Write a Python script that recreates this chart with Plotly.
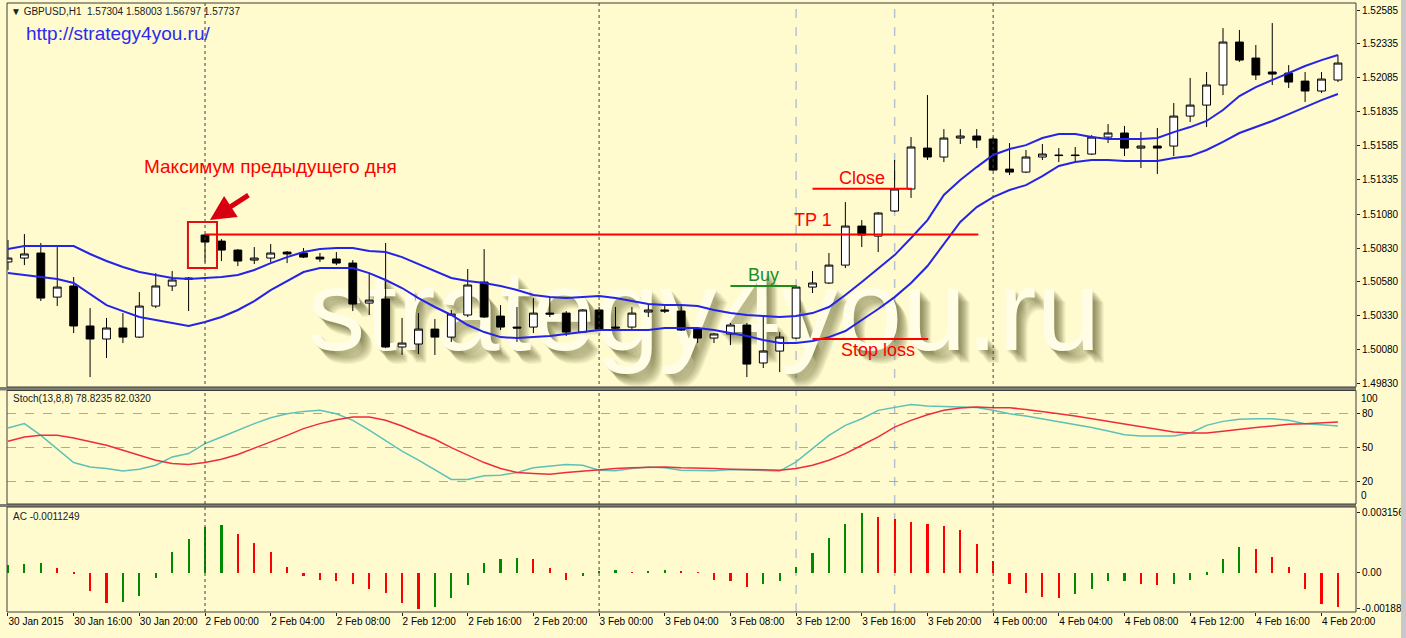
import plotly.graph_objects as go

# ---------------- data ----------------
bars = list(range(82))  # hourly bars, 30 Jan 2015 12:00 .. 4 Feb 2015 21:00 (weekend skipped)

time_label_bars = [0, 4, 8, 12, 16, 20, 24, 28, 32, 36, 40, 44, 48, 52, 56, 60, 64, 68, 72, 76, 80]
time_labels = ["30 Jan 2015", "30 Jan 16:00", "30 Jan 20:00", "2 Feb 00:00", "2 Feb 04:00",
               "2 Feb 08:00", "2 Feb 12:00", "2 Feb 16:00", "2 Feb 20:00", "3 Feb 00:00",
               "3 Feb 04:00", "3 Feb 08:00", "3 Feb 12:00", "3 Feb 16:00", "3 Feb 20:00",
               "4 Feb 00:00", "4 Feb 04:00", "4 Feb 08:00", "4 Feb 12:00", "4 Feb 16:00",
               "4 Feb 20:00"]

price_tick_labels = ["1.52585", "1.52335", "1.52085", "1.51835", "1.51585", "1.51335",
                     "1.51080", "1.50830", "1.50580", "1.50330", "1.50080", "1.49830"]

opens = [1.50727, 1.50756, 1.50793, 1.50468, 1.50550, 1.50255, 1.50159, 1.50240, 1.50173, 1.50402,
         1.50550, 1.50609, 1.50926, 1.50881, 1.50815, 1.50741, 1.50756, 1.50800, 1.50793, 1.50763,
         1.50749, 1.50719, 1.50424, 1.50454, 1.50100, 1.50122, 1.50232, 1.50173, 1.50336, 1.50579,
         1.50328, 1.50247, 1.50247, 1.50350, 1.50350, 1.50210, 1.50373, 1.50247, 1.50247, 1.50358,
         1.50373, 1.50365, 1.50232, 1.50166, 1.50196, 1.50262, 1.49982, 1.50070, 1.50166, 1.50542,
         1.50572, 1.50704, 1.50992, 1.50918, 1.51103, 1.51265, 1.51567, 1.51501, 1.51641, 1.51656,
         1.51634, 1.51412, 1.51390, 1.51501, 1.51516, 1.51516, 1.51523, 1.51648, 1.51678, 1.51567,
         1.51582, 1.51582, 1.51803, 1.51884, 1.52032, 1.52349, 1.52231, 1.52128, 1.52120, 1.52061,
         1.51988, 1.52069]
highs = [1.50889, 1.50933, 1.50867, 1.50837, 1.50616, 1.50387, 1.50314, 1.50350, 1.50505, 1.50645,
         1.50660, 1.50616, 1.50933, 1.50896, 1.50822, 1.50837, 1.50859, 1.50808, 1.50830, 1.50793,
         1.50800, 1.50741, 1.50645, 1.50867, 1.50314, 1.50350, 1.50306, 1.50373, 1.50675, 1.50822,
         1.50409, 1.50395, 1.50461, 1.50461, 1.50365, 1.50380, 1.50395, 1.50395, 1.50395, 1.50417,
         1.50402, 1.50402, 1.50247, 1.50203, 1.50277, 1.50277, 1.50336, 1.50210, 1.50550, 1.50660,
         1.50793, 1.51169, 1.51036, 1.51095, 1.51479, 1.51648, 1.51958, 1.51707, 1.51707, 1.51707,
         1.51648, 1.51604, 1.51553, 1.51597, 1.51567, 1.51575, 1.51663, 1.51744, 1.51730, 1.51685,
         1.51715, 1.51899, 1.52084, 1.52128, 1.52452, 1.52438, 1.52327, 1.52489, 1.52179, 1.52128,
         1.52128, 1.52253]
lows = [1.50668, 1.50704, 1.50439, 1.50402, 1.50203, 1.49878, 1.50019, 1.50129, 1.50166, 1.50387,
        1.50513, 1.50365, 1.50727, 1.50734, 1.50697, 1.50712, 1.50727, 1.50719, 1.50756, 1.50727,
        1.50704, 1.50365, 1.50336, 1.50092, 1.50041, 1.50048, 1.50041, 1.50137, 1.50321, 1.50314,
        1.50225, 1.50137, 1.50203, 1.50321, 1.50181, 1.50203, 1.50225, 1.50225, 1.50225, 1.50321,
        1.50350, 1.50218, 1.50129, 1.50129, 1.50114, 1.49878, 1.49945, 1.49915, 1.50159, 1.50498,
        1.50564, 1.50682, 1.50837, 1.50800, 1.51095, 1.51199, 1.51479, 1.51464, 1.51597, 1.51567,
        1.51400, 1.51368, 1.51383, 1.51479, 1.51464, 1.51464, 1.51516, 1.51604, 1.51508, 1.51420,
        1.51376, 1.51508, 1.51759, 1.51722, 1.51958, 1.52202, 1.52069, 1.52032, 1.52010, 1.51907,
        1.51973, 1.52054]
closes = [1.50756, 1.50786, 1.50461, 1.50542, 1.50255, 1.50159, 1.50240, 1.50173, 1.50402, 1.50550,
          1.50594, 1.50601, 1.50874, 1.50815, 1.50734, 1.50756, 1.50793, 1.50786, 1.50763, 1.50749,
          1.50719, 1.50417, 1.50446, 1.50100, 1.50129, 1.50232, 1.50173, 1.50343, 1.50557, 1.50321,
          1.50247, 1.50240, 1.50350, 1.50343, 1.50210, 1.50373, 1.50232, 1.50240, 1.50350, 1.50373,
          1.50365, 1.50225, 1.50166, 1.50196, 1.50262, 1.49974, 1.50070, 1.50173, 1.50542, 1.50572,
          1.50704, 1.50992, 1.50926, 1.51088, 1.51265, 1.51575, 1.51501, 1.51641, 1.51656, 1.51626,
          1.51405, 1.51390, 1.51501, 1.51523, 1.51512, 1.51512, 1.51648, 1.51678, 1.51567, 1.51582,
          1.51567, 1.51803, 1.51884, 1.52032, 1.52349, 1.52216, 1.52106, 1.52113, 1.52054, 1.51988,
          1.52076, 1.52194]

band_upper = [1.50822, 1.50845, 1.50845, 1.50845, 1.50845, 1.50786, 1.50734, 1.50690, 1.50653, 1.50631,
              1.50609, 1.50601, 1.50609, 1.50616, 1.50631, 1.50668, 1.50719, 1.50763, 1.50800, 1.50822,
              1.50830, 1.50830, 1.50808, 1.50800, 1.50763, 1.50712, 1.50660, 1.50609, 1.50587, 1.50572,
              1.50550, 1.50520, 1.50483, 1.50468, 1.50461, 1.50468, 1.50476, 1.50461, 1.50439, 1.50417,
              1.50409, 1.50409, 1.50402, 1.50373, 1.50350, 1.50336, 1.50328, 1.50321, 1.50328, 1.50350,
              1.50395, 1.50483, 1.50579, 1.50675, 1.50778, 1.50904, 1.51036, 1.51221, 1.51331, 1.51427,
              1.51516, 1.51560, 1.51589, 1.51641, 1.51670, 1.51670, 1.51648, 1.51634, 1.51634, 1.51634,
              1.51641, 1.51685, 1.51722, 1.51767, 1.51848, 1.51951, 1.52017, 1.52069, 1.52120, 1.52172,
              1.52216, 1.52253]
band_lower = [1.50645, 1.50631, 1.50616, 1.50601, 1.50572, 1.50491, 1.50409, 1.50365, 1.50321, 1.50299,
              1.50277, 1.50255, 1.50284, 1.50321, 1.50373, 1.50439, 1.50520, 1.50587, 1.50653, 1.50682,
              1.50682, 1.50682, 1.50645, 1.50594, 1.50535, 1.50461, 1.50395, 1.50336, 1.50262, 1.50210,
              1.50173, 1.50166, 1.50173, 1.50181, 1.50196, 1.50210, 1.50225, 1.50225, 1.50225, 1.50225,
              1.50240, 1.50240, 1.50240, 1.50225, 1.50203, 1.50181, 1.50151, 1.50129, 1.50129, 1.50144,
              1.50173, 1.50218, 1.50299, 1.50380, 1.50468, 1.50572, 1.50697, 1.50859, 1.51022, 1.51132,
              1.51206, 1.51258, 1.51294, 1.51361, 1.51435, 1.51464, 1.51479, 1.51479, 1.51471, 1.51471,
              1.51471, 1.51494, 1.51508, 1.51553, 1.51612, 1.51678, 1.51722, 1.51767, 1.51818, 1.51870,
              1.51921, 1.51966]

stoch_main = [67.0, 70.8, 60.5, 48.8, 36.5, 32.7, 31.3, 29.0, 30.7, 34.2,
              41.5, 44.4, 53.2, 59.0, 65.0, 70.8, 76.0, 79.5, 81.6, 82.5,
              79.5, 73.7, 65.0, 56.0, 46.5, 38.6, 29.8, 21.6, 21.6, 24.9,
              25.4, 27.8, 31.9, 33.6, 34.8, 34.2, 29.8, 29.2, 31.3, 32.5,
              31.9, 29.8, 29.8, 29.2, 30.4, 29.8, 29.0, 29.0, 37.1, 48.8,
              60.5, 69.3, 75.1, 82.5, 85.4, 87.7, 86.3, 86.0, 85.4, 85.1,
              82.5, 79.5, 77.5, 75.1, 72.2, 69.9, 67.3, 64.3, 61.1, 59.9,
              59.6, 59.9, 62.6, 69.3, 72.8, 74.6, 75.1, 75.1, 73.7, 70.8,
              69.9, 68.7]
stoch_signal = [55.3, 59.1, 60.5, 60.5, 58.2, 55.3, 51.8, 47.4, 43.0, 38.6,
                35.7, 34.8, 36.5, 39.5, 43.6, 48.8, 54.7, 60.5, 66.4, 70.8,
                74.3, 76.6, 76.6, 73.7, 68.7, 62.6, 57.0, 49.7, 43.0, 36.5,
                31.3, 27.8, 26.9, 26.3, 27.8, 29.0, 30.4, 31.3, 31.9, 32.5,
                32.7, 31.9, 31.9, 31.3, 30.7, 30.4, 30.1, 29.8, 31.3, 34.2,
                38.6, 44.4, 51.8, 59.1, 67.8, 73.7, 78.7, 82.5, 84.5, 85.4,
                84.8, 84.8, 83.3, 81.6, 79.5, 77.5, 75.1, 72.8, 70.2, 67.8,
                65.5, 63.5, 62.6, 62.6, 64.0, 65.8, 67.3, 68.7, 70.2, 70.8,
                71.6, 72.2]

ac_values = [0.00041, 0.00046, 0.00052, 0.00026, -0.00008, -0.00096, -0.00160, -0.00155, -0.00122, -0.00027,
             0.00107, 0.00179, 0.00240, 0.00252, 0.00206, 0.00155, 0.00107, 0.00029, -0.00017, -0.00035,
             -0.00040, -0.00060, -0.00086, -0.00108, -0.00160, -0.001888, -0.00177, -0.00134, -0.00065, 0.00052,
             0.00072, 0.00077, 0.00072, 0.00026, -0.00035, -0.00017, 0.00007, 0.00015, 0.00004, 0.00006,
             0.00015, 0.00007, 0.00002, -0.00035, -0.00043, -0.00074, -0.00058, -0.00040, 0.00029, 0.00103,
             0.00184, 0.00258, 0.003156, 0.00295, 0.00282, 0.00268, 0.00258, 0.00244, 0.00227, 0.00153,
             0.00064, -0.00057, -0.00108, -0.00125, -0.00134, -0.00113, -0.00082, -0.00045, -0.00043, -0.00057,
             -0.00065, -0.00060, -0.00036, -0.00010, 0.00072, 0.00136, 0.00127, 0.00084, 0.00029, -0.00082,
             -0.00165, -0.00177]
ac_tick_vals = [0.003156, 0.0, -0.001888]
ac_tick_text = ["0.003156", "0.00", "-0.001888"]

# trade levels drawn on the chart
level_names = ["TP 1", "Close", "Buy", "Stop loss"]
level_prices = [1.50930, 1.51268, 1.50550, 1.50159]
level_start = [12.0, 49.0, 44.0, 49.0]
level_end = [59.1, 55.05, 48.05, 56.05]
level_colors = ["#FF0000", "#FF0000", "#1E8C1E", "#FF0000"]

day_separators = [12, 36, 60]
marker_lines = [48, 54]

# ---------------- styling ----------------
BG = "#FFFBCF"
FONT = "Liberation Sans"
W, H = 1406, 638
ML, MR, MT, MB = 7, 50, 3, 26
PW, PH = W - ML - MR, H - MT - MB


def py(px):  # pixel row -> paper y
    return (H - MB - px) / PH


def pxx(px):  # pixel column -> paper x
    return (px - ML) / PW


price_range = [1.49805, 1.52637]
main_dom = [py(387), 1.0]
stoch_dom = [py(504), py(390.5)]
ac_dom = [0.0, py(507)]

PX_X = 1 / 16.42          # one pixel in bar units
PX_Y = 0.00007375          # one pixel in price units

fig = go.Figure()

# watermark (base layer, behind the candles)
WM = "strategy4you.ru"
wm_x, wm_y = 42.4, 1.50290
for k in range(1, 15):
    fig.add_trace(go.Scatter(
        x=[wm_x + 0.8 * k * PX_X], y=[wm_y - 0.9 * k * PX_Y], mode="text", text=[WM],
        textposition="middle center",
        textfont=dict(family=FONT, size=115, color="rgba(70,62,20,0.06)"),
        hoverinfo="skip", showlegend=False, xaxis="x", yaxis="y"))
fig.add_trace(go.Scatter(
    x=[wm_x], y=[wm_y], mode="text", text=[WM], textposition="middle center",
    textfont=dict(family=FONT, size=115, color="#FFFDE6"),
    hoverinfo="skip", showlegend=False, xaxis="x", yaxis="y"))

# candles
fig.add_trace(go.Candlestick(
    x=bars, open=opens, high=highs, low=lows, close=closes,
    increasing=dict(line=dict(color="#000000", width=1), fillcolor="#FFFFFF"),
    decreasing=dict(line=dict(color="#000000", width=1), fillcolor="#000000"),
    whiskerwidth=0, hoverinfo="skip", showlegend=False, xaxis="x", yaxis="y4"))

# channel
for band in (band_upper, band_lower):
    fig.add_trace(go.Scatter(x=bars, y=band, mode="lines",
                             line=dict(color="#2424E6", width=2),
                             hoverinfo="skip", showlegend=False, xaxis="x", yaxis="y4"))

# stochastic
fig.add_trace(go.Scatter(x=bars, y=stoch_main, mode="lines", line=dict(color="#5CC2B6", width=1.5),
                         hoverinfo="skip", showlegend=False, xaxis="x", yaxis="y2"))
fig.add_trace(go.Scatter(x=bars, y=stoch_signal, mode="lines", line=dict(color="#F02C3C", width=1.5),
                         hoverinfo="skip", showlegend=False, xaxis="x", yaxis="y2"))

# accelerator oscillator
ac_colors = []
for i, v in enumerate(ac_values):
    up = True if i == 0 else v > ac_values[i - 1]
    ac_colors.append("#008A00" if up else "#FF0000")
fig.add_trace(go.Bar(x=bars, y=ac_values, marker=dict(color=ac_colors, line=dict(width=0)), width=0.13,
                     hoverinfo="skip", showlegend=False, xaxis="x", yaxis="y3"))

shapes = []
# vertical separators
for b in day_separators:
    shapes.append(dict(type="line", xref="x", yref="paper", x0=b, x1=b, y0=0, y1=1,
                       line=dict(color="#404040", width=1, dash="dot"), layer="above"))
for b in marker_lines:
    shapes.append(dict(type="line", xref="x", yref="paper", x0=b, x1=b, y0=0, y1=1,
                       line=dict(color="#B8C2D2", width=1.5, dash="dash"), layer="below"))
# trade level lines
for p, s, e, c in zip(level_prices, level_start, level_end, level_colors):
    shapes.append(dict(type="line", xref="x", yref="y4", x0=s, x1=e, y0=p, y1=p,
                       line=dict(color=c, width=2), layer="above"))
# box around previous-day maximum bar
shapes.append(dict(type="rect", xref="x", yref="y4", x0=10.96, x1=12.73, y0=1.50682, y1=1.51022,
                   line=dict(color="#E01010", width=2), layer="above"))
# panel separators and frames
for lo, hi in ((py(390.5), py(387)), (py(507), py(504))):
    shapes.append(dict(type="rect", xref="paper", yref="paper", x0=-0.01, x1=1.0, y0=lo, y1=hi,
                       fillcolor="#7E7E70", line=dict(width=0), layer="above"))
for dom in (main_dom, stoch_dom, ac_dom):
    shapes.append(dict(type="rect", xref="paper", yref="paper", x0=0, x1=1, y0=dom[0], y1=dom[1],
                       line=dict(color="#3C3C3C", width=1), layer="above"))
# right grey strip of the window
shapes.append(dict(type="rect", xref="paper", yref="paper", x0=pxx(1401), x1=pxx(1407), y0=-0.1, y1=1.01,
                   fillcolor="#C8C8C8", line=dict(width=0), layer="above"))

annotations = [
    dict(xref="paper", yref="paper", x=pxx(9), y=py(12), xanchor="left", yanchor="middle",
         text="▼ GBPUSD,H1  1.57304 1.58003 1.56797 1.57737", showarrow=False,
         font=dict(family=FONT, size=10, color="#202020")),
    dict(xref="paper", yref="paper", x=pxx(24), y=py(33), xanchor="left", yanchor="middle",
         text="http://strategy4you.ru/", showarrow=False,
         font=dict(family=FONT, size=19, color="#2A2AF0")),
    dict(xref="paper", yref="paper", x=pxx(270), y=py(166), xanchor="center", yanchor="middle",
         text="Максимум предыдущего дня", showarrow=False,
         font=dict(family=FONT, size=19, color="#FF0000")),
    dict(xref="x", yref="y4", x=12.3, y=1.51036, ax=40, ay=-26, text="", showarrow=True,
         arrowhead=2, arrowsize=1, arrowwidth=5, arrowcolor="#D80010"),
    dict(xref="paper", yref="paper", x=pxx(11), y=py(398), xanchor="left", yanchor="middle",
         text="Stoch(13,8,8) 78.8235 82.0320", showarrow=False,
         font=dict(family=FONT, size=10, color="#202020")),
    dict(xref="paper", yref="paper", x=pxx(11), y=py(516), xanchor="left", yanchor="middle",
         text="AC -0.0011249", showarrow=False,
         font=dict(family=FONT, size=10, color="#202020")),
    dict(xref="paper", yref="y2", x=1, y=100, xanchor="left", yanchor="top", xshift=3, yshift=-1,
         text="100", showarrow=False, font=dict(family=FONT, size=10, color="#000000")),
    dict(xref="paper", yref="y2", x=1, y=0, xanchor="left", yanchor="bottom", xshift=3, yshift=1,
         text="0", showarrow=False, font=dict(family=FONT, size=10, color="#000000")),
]
# trade level labels
label_pos = {"TP 1": (49.0, 1.51036), "Close": (52.0, 1.51346),
             "Buy": (46.0, 1.50631), "Stop loss": (53.0, 1.50078)}
for name, c in zip(level_names, level_colors):
    lx, ly = label_pos[name]
    annotations.append(dict(xref="x", yref="y4", x=lx, y=ly, text=name, showarrow=False,
                            xanchor="center", yanchor="middle",
                            font=dict(family=FONT, size=18, color=c)))

axis_common = dict(automargin=False, ticks="outside", ticklen=3, tickcolor="#202020",
                   zeroline=False, tickfont=dict(size=10, family=FONT, color="#000000"))

fig.update_layout(
    width=W, height=H, margin=dict(l=ML, r=MR, t=MT, b=MB, autoexpand=False),
    paper_bgcolor=BG, plot_bgcolor=BG, showlegend=False, boxgap=0.32, bargap=0,
    font=dict(family=FONT, size=10, color="#000000"),
    xaxis=dict(domain=[0, 1], range=[-0.06, 82.1], anchor="y3",
               tickmode="array", tickvals=time_label_bars, ticktext=time_labels, tickangle=0,
               ticklabelposition="outside right", showgrid=False, showline=False,
               rangeslider=dict(visible=False), **axis_common),
    yaxis=dict(domain=main_dom, range=price_range, visible=False, anchor="x", automargin=False),
    yaxis4=dict(overlaying="y", side="right", anchor="x", range=price_range,
                tickmode="array", tickvals=[float(t) for t in price_tick_labels], ticktext=price_tick_labels,
                showgrid=False, **axis_common),
    yaxis2=dict(domain=stoch_dom, range=[0, 100], side="right", anchor="x",
                tickmode="array", tickvals=[80, 50, 20],
                showgrid=True, gridcolor="#A8A8A8", griddash="dash", gridwidth=1, **axis_common),
    yaxis3=dict(domain=ac_dom, range=[-0.00205, 0.00345], side="right", anchor="x",
                tickmode="array", tickvals=ac_tick_vals, ticktext=ac_tick_text,
                showgrid=False, **axis_common),
    shapes=shapes, annotations=annotations,
)

fig.write_html("out.html", config={"displayModeBar": False},
               post_script="document.body.style.margin='0';document.body.style.padding='0';"
                           "document.body.style.background='" + BG + "';")
